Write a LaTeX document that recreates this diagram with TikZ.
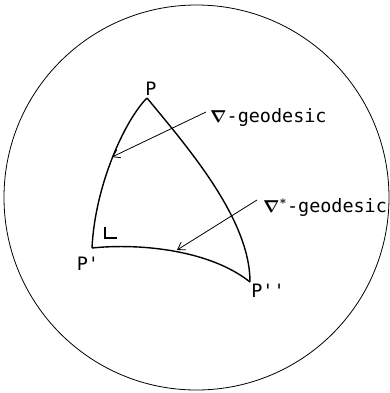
\documentclass[tikz,border=0pt]{standalone}
\usepackage{amsmath}
\usepackage{fontspec}
\setmonofont{DejaVu Sans Mono}
\usetikzlibrary{arrows.meta}
\begin{document}
\begin{tikzpicture}[x=1bp,y=-1bp,
  lbl/.style={font=\ttfamily\fontsize{18.5}{20}\selectfont, inner sep=0pt},
  geo/.style={line width=1.4pt},
  ptr/.style={line width=0.8pt,-{Straight Barb[length=7pt,width=9pt]}}]
\useasboundingbox (0,0) rectangle (390,393);
\node[circle,draw,line width=0.8pt,minimum size=385bp,inner sep=0pt] (C) at (196.5,197.5) {};
\coordinate (P) at (147,98);
\coordinate (P1) at (92,248);
\coordinate (P2) at (250,282);
\draw[geo] (P) .. controls (125,120) and (95,185) .. (P1);
\draw[geo] (P) .. controls (190,150) and (250,220) .. (P2);
\draw[geo] (P1) .. controls (140,243) and (210,250) .. (P2);
\draw[line width=1.4pt] (105,227) -- (105,238) -- (117,238);
\node[lbl] (lP) at (151,89) {P};
\node[lbl] (lP1) at (88,264) {P'};
\node[lbl] (lP2) at (268,291) {P''};
\node[lbl,anchor=west] (g1) at (210,117) {$\boldsymbol{\nabla}$-geodesic};
\node[lbl,anchor=west] (g2) at (263,207) {$\boldsymbol{\nabla}^{\boldsymbol{*}}$-geodesic};
\coordinate (t1) at (112,157);
\coordinate (t2) at (177,250);
\draw[ptr] (g1.west) ++(-4,-5) -- (t1);
\draw[ptr] (g2.west) ++(-6,-7) -- (t2);
\end{tikzpicture}
\end{document}
